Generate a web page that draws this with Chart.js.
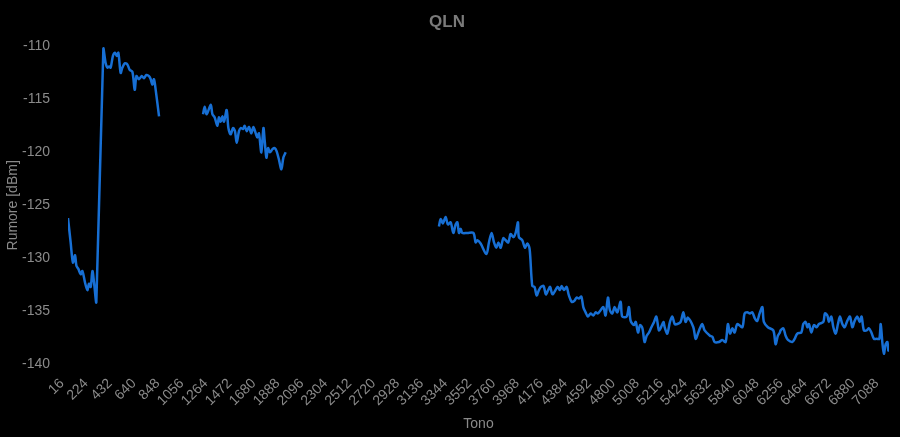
<!DOCTYPE html>
<html>
<head>
<meta charset="utf-8">
<script src="https://cdn.jsdelivr.net/npm/chart.js@4.4.0/dist/chart.umd.min.js"></script>
<style>
  html, body { margin: 0; padding: 0; background: #000; }
  #wrap { width: 900px; height: 437px; }
</style>
</head>
<body>
<div id="wrap"><canvas id="c" width="900" height="437"></canvas></div>
<script>
const chartTitle = "QLN";
const xTitle = "Tono";
const yTitle = "Rumore [dBm]";
const xTickLabels = [16,224,432,640,848,1056,1264,1472,1680,1888,2096,2304,2512,2720,2928,3136,3344,3552,3760,3968,4176,4384,4592,4800,5008,5216,5424,5632,5840,6048,6256,6464,6672,6880,7088];
const yTicks = [-140,-135,-130,-125,-120,-115,-110];

const tones = [
  16,39,59,77,89,106,126,141,164,184,198,213,228,242,262,323,343,358,372,386,406,424,439,453,473,488,508,531,551,575,595,610,632,656,675,696,719,734,748,762,777,806,
  1000,
  1188,1202,1220,1255,1269,1289,1312,1326,1341,1356,1370,1393,1408,1428,1448,1465,1480,1500,1515,1535,1549,1567,1587,1607,1625,1645,1659,1673,1694,1712,1723,1738,1752,1769,1790,1810,1827,1847,1868,1885,1905,
  2500,
  3235,3250,3270,3293,3313,3337,3360,3380,3395,3409,3424,3438,3482,3534,3554,3569,3597,3647,3669,3692,3713,3733,3751,3771,3794,3814,3837,3857,3881,3901,3921,3929,3959,3981,4002,4022,4045,4065,4083,4103,4120,4143,4163,4183,4200,4221,4265,4285,4300,4320,4343,4363,4387,4411,4430,4450,4471,4488,4508,4528,4551,4575,4595,4615,4638,4662,4681,4702,4719,4740,4760,4783,4812,4826,4864,4884,4899,4928,4943,4963,4980,5001,5020,5038,5058,5079,5102,5122,5144,
  5159,5183,5194,5217,5240,5261,5281,5304,5333,5356,5376,5396,5443,5463,5483,5500,5521,5541,5587,5608,5628,5665,5694,5723,5743,5761,5782,5801,5825,5868,5888,5911,5934,5955,5978,5998,6018,6042,6055,6090,6137,6157,6177,6194,
  6200,6224,6244,6264,6302,6322,6345,6380,6397,6417,6432,6446,6467,6489,6513,6533,6571,6585,6606,6620,6640,6658,6678,6698,6715,6736,6756,6779,6802,6823,6843,6866,6886,6903,6923,6947,6967,6988,7011,7034,7057,7069,7083,7097,7112,7127,7135,7141
];
const qln = [
  -126.2,-128.5,-130.4,-129.7,-130.7,-131.0,-131.5,-131.2,-132.3,-133.0,-132.4,-132.7,-131.2,-132.3,-134.1,-110.2,-111.6,-112.0,-111.9,-112.0,-110.9,-110.6,-110.9,-110.6,-112.5,-112.0,-111.6,-111.7,-112.2,-112.4,-114.1,-112.8,-113.1,-112.8,-113.0,-112.7,-112.8,-113.1,-113.6,-113.1,-114.1,-116.6,
  null,
  -116.4,-115.7,-116.4,-115.5,-116.4,-116.7,-117.5,-116.7,-117.1,-116.6,-117.1,-116.0,-117.7,-118.3,-117.7,-118.0,-119.1,-118.0,-117.7,-117.8,-117.5,-118.0,-117.6,-118.2,-117.6,-118.2,-118.6,-118.2,-120.0,-117.7,-118.9,-120.5,-119.6,-120.0,-119.7,-119.6,-119.9,-120.7,-121.6,-120.5,-120.0,
  null,
  -127.0,-126.3,-126.7,-126.1,-126.8,-126.6,-127.6,-126.8,-126.6,-127.6,-127.2,-127.6,-127.6,-127.6,-128.5,-128.3,-128.6,-129.6,-128.5,-127.6,-128.5,-129.0,-128.5,-129.0,-128.1,-128.3,-128.5,-127.7,-128.0,-127.6,-126.6,-128.0,-128.3,-129.0,-128.6,-129.1,-132.6,-132.7,-133.5,-133.0,-132.7,-132.6,-133.4,-133.0,-132.7,-133.4,-132.7,-133.0,-132.6,-133.0,-132.7,-133.5,-134.1,-134.0,-133.7,-133.8,-133.6,-134.6,-135.1,-135.5,-135.2,-135.4,-135.1,-135.2,-134.9,-134.6,-135.4,-133.7,-134.9,-135.2,-134.6,-135.1,-134.1,-135.5,-135.5,-134.6,-135.9,-136.3,-136.0,-137.0,-136.3,-136.6,-137.9,-137.3,-137.0,-136.5,-136.0,-135.5,-136.8,
  -136.6,-136.0,-136.5,-137.1,-136.0,-135.5,-136.2,-136.2,-136.0,-135.1,-136.0,-135.6,-136.5,-137.6,-137.1,-136.6,-136.2,-136.8,-137.3,-137.4,-137.9,-137.9,-137.7,-137.9,-136.2,-137.1,-136.6,-137.0,-136.2,-136.5,-135.2,-135.1,-135.2,-135.1,-135.7,-135.9,-135.2,-134.6,-136.0,-136.5,-136.8,-138.1,-137.3,-137.0,
  -136.8,-136.6,-137.3,-137.7,-137.9,-137.6,-137.1,-137.0,-136.2,-136.0,-136.5,-136.2,-137.0,-136.3,-136.5,-136.2,-136.0,-135.2,-135.4,-136.0,-135.5,-136.5,-137.1,-136.2,-135.5,-136.2,-136.5,-135.9,-135.5,-136.5,-135.9,-135.5,-136.0,-135.5,-136.8,-136.8,-136.6,-137.0,-137.6,-137.6,-137.6,-136.2,-137.9,-139.0,-138.1,-137.9,-138.7,-138.5
];

const points = tones.map((t, i) => ({ x: t, y: qln[i] }));

const bgPlugin = {
  id: 'bg',
  beforeDraw(chart) {
    const ctx = chart.ctx;
    ctx.save();
    ctx.fillStyle = '#000';
    ctx.fillRect(0, 0, chart.width, chart.height);
    ctx.restore();
  }
};

const textColor = '#8a8a8a';
Chart.defaults.font.family = "'Liberation Sans', Arial, Helvetica, sans-serif";

new Chart(document.getElementById('c'), {
  type: 'line',
  data: {
    datasets: [{
      label: chartTitle,
      data: points,
      borderColor: '#176fd4',
      borderWidth: 2.5,
      pointRadius: 0,
      tension: 0.3,
      spanGaps: false,
      fill: false
    }]
  },
  options: {
    responsive: false,
    animation: false,
    layout: { padding: { left: 5, right: 11, top: 0, bottom: 0 } },
    plugins: {
      legend: { display: false },
      tooltip: { enabled: false },
      title: {
        display: true,
        text: chartTitle,
        color: '#7a7a7a',
        font: { size: 17, weight: 'bold' },
        padding: { top: 12, bottom: 14 }
      }
    },
    scales: {
      x: {
        type: 'linear',
        min: tones[0],
        max: tones[tones.length - 1],
        grid: { display: false },
        border: { display: false },
        afterBuildTicks(scale) {
          scale.ticks = xTickLabels.map(v => ({ value: v }));
        },
        ticks: {
          color: textColor,
          font: { size: 14 },
          minRotation: 45,
          maxRotation: 45,
          autoSkip: false,
          labelOffset: -6,
          callback: (v) => String(v)
        },
        title: { display: true, text: xTitle, color: textColor, font: { size: 14 } }
      },
      y: {
        min: yTicks[0],
        max: yTicks[yTicks.length - 1],
        grid: { display: false },
        border: { display: false },
        afterBuildTicks(scale) {
          scale.ticks = yTicks.map(v => ({ value: v }));
        },
        afterFit(scale) { scale.width = 63; },
        ticks: { color: textColor, font: { size: 14 }, padding: 10 },
        title: { display: true, text: yTitle, color: textColor, font: { size: 14 }, padding: { top: 0, bottom: 0 } }
      }
    }
  },
  plugins: [bgPlugin]
});
</script>
</body>
</html>
